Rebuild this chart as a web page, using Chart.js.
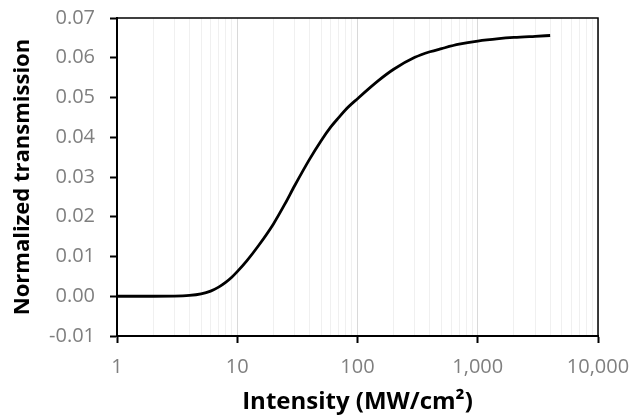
<!DOCTYPE html>
<html>
<head>
<meta charset="utf-8">
<script src="https://cdn.jsdelivr.net/npm/chart.js@4.4.1/dist/chart.umd.min.js"></script>
<style>
  html, body { margin: 0; padding: 0; background: #fff; }
  #wrap { width: 643px; height: 417px; }
</style>
</head>
<body>
<div id="wrap"><canvas id="chart"></canvas></div>
<script>
// intensity in MW/cm^2 (x) and normalized transmission (y)
const intensity = [1, 2, 3, 4, 5, 6, 7, 8, 9, 10, 12, 15, 20, 25, 30, 40, 50, 60, 70, 80, 100,
                   150, 200, 300, 400, 500, 700, 1000, 1500, 2000, 3000, 4000];
const transmission = [0, 0, 0.00003, 0.0002, 0.0006, 0.0013, 0.0023, 0.0035, 0.0048, 0.0062, 0.0089,
                      0.0127, 0.0182, 0.0233, 0.0278, 0.0345, 0.0392, 0.0426, 0.0450, 0.0470, 0.0497,
                      0.0543, 0.0571, 0.0601, 0.0615, 0.0623, 0.0634, 0.0642, 0.0648, 0.0651, 0.0654, 0.0656];
const yTicks = [-0.01, 0, 0.01, 0.02, 0.03, 0.04, 0.05, 0.06, 0.07];
const xMajor = [1, 10, 100, 1000, 10000];

const FONT = "'Open Sans', 'Liberation Sans', sans-serif";
const TICK_GRAY = '#7f7f7f';

function isMajor(v) {
    return xMajor.indexOf(v) !== -1;
}

// top and right edges of the plot box
const frame = {
    id: 'frame',
    afterDraw(chart) {
        const a = chart.chartArea;
        const ctx = chart.ctx;
        ctx.save();
        ctx.strokeStyle = '#000';
        ctx.lineWidth = 1.5;
        ctx.beginPath();
        ctx.moveTo(a.left, a.top);
        ctx.lineTo(a.right, a.top);
        ctx.lineTo(a.right, a.bottom);
        ctx.stroke();
        ctx.restore();
    }
};

new Chart(document.getElementById('chart'), {
    type: 'line',
    data: {
        datasets: [{
            data: intensity.map((x, i) => ({ x, y: transmission[i] })),
            borderColor: '#000',
            borderWidth: 2.8,
            pointRadius: 0,
            fill: false,
            cubicInterpolationMode: 'monotone'
        }]
    },
    options: {
        responsive: true,
        maintainAspectRatio: false,
        animation: false,
        layout: { padding: { left: 0, top: 18, right: 45, bottom: 0 } },
        plugins: { legend: { display: false }, tooltip: { enabled: false } },
        scales: {
            x: {
                type: 'logarithmic',
                min: 1,
                max: 10000,
                afterBuildTicks(scale) {
                    const t = [];
                    for (let d = 1; d <= 1000; d *= 10) {
                        for (let k = 1; k < 10; k++) t.push({ value: d * k });
                    }
                    t.push({ value: 10000 });
                    scale.ticks = t;
                },
                afterFit(scale) { scale.height = 81; },
                ticks: {
                    autoSkip: false,
                    maxRotation: 0,
                    padding: 12,
                    color: TICK_GRAY,
                    font: { family: FONT, size: 20 },
                    callback: v => isMajor(v) ? v.toLocaleString('en-US') : ''
                },
                grid: {
                    color: c => isMajor(c.tick.value) ? '#d9d9d9' : '#f0f0f0',
                    lineWidth: 1,
                    tickColor: c => isMajor(c.tick.value) ? '#000' : 'rgba(0,0,0,0)',
                    tickLength: 7,
                    tickWidth: 2
                },
                border: { display: true, color: '#000', width: 2 },
                title: {
                    display: true,
                    text: 'Intensity (MW/cm\u00B2)',
                    color: '#000',
                    font: { family: FONT, size: 24, weight: 'bold' },
                    padding: { top: 0, bottom: 0 }
                }
            },
            y: {
                min: -0.01,
                max: 0.07,
                afterBuildTicks(scale) { scale.ticks = yTicks.map(v => ({ value: v })); },
                afterFit(scale) {
                    scale.width = 117;
                    // labels may hang over the plot edges; don't reserve room for them
                    scale.paddingTop = 0;
                    scale.paddingBottom = 0;
                },
                ticks: {
                    padding: 15,
                    color: TICK_GRAY,
                    font: { family: FONT, size: 20 },
                    callback: v => v.toFixed(2)
                },
                grid: {
                    color: 'rgba(0,0,0,0)',
                    tickColor: '#000',
                    tickLength: 7,
                    tickWidth: 2
                },
                border: { display: true, color: '#000', width: 2 },
                title: {
                    display: true,
                    text: 'Normalized transmission',
                    color: '#000',
                    font: { family: FONT, size: 22, weight: 'bold' },
                    padding: { top: 10, bottom: 0 }
                }
            }
        }
    },
    plugins: [frame]
});
</script>
</body>
</html>
